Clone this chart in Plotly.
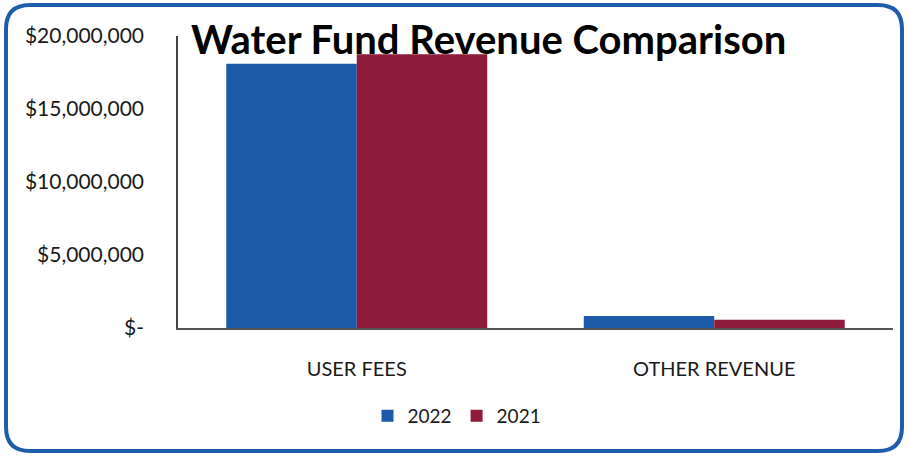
import plotly.graph_objects as go

# data
categories = ["USER FEES", "OTHER REVENUE"]
rev_2022 = [18100000, 820000]
rev_2021 = [18750000, 560000]
y_ticks = [0, 5000000, 10000000, 15000000, 20000000]
y_labels = ["$-", "$5,000,000", "$10,000,000", "$15,000,000", "$20,000,000"]

# canvas / plot area in pixels
W, H = 908, 456
L, R, T, B = 178, 15, 36, 128


def px_x(p):
    return (p - L) / (W - L - R)


def px_y(p):
    return (H - B - p) / (H - T - B)


blue = "#1d5aa8"
red = "#8e1b3a"

fig = go.Figure()
fig.add_trace(go.Bar(x=categories, y=rev_2022, name="2022", marker=dict(color=blue, line=dict(width=0))))
fig.add_trace(go.Bar(x=categories, y=rev_2021, name="2021", marker=dict(color=red, line=dict(width=0))))

# rounded blue frame round the whole chart
x0, x1, y0, y1, r = 6, 902, 5, 451, 24
path = (f"M {px_x(x0 + r)},{px_y(y0)} L {px_x(x1 - r)},{px_y(y0)} "
        f"Q {px_x(x1)},{px_y(y0)} {px_x(x1)},{px_y(y0 + r)} "
        f"L {px_x(x1)},{px_y(y1 - r)} Q {px_x(x1)},{px_y(y1)} {px_x(x1 - r)},{px_y(y1)} "
        f"L {px_x(x0 + r)},{px_y(y1)} Q {px_x(x0)},{px_y(y1)} {px_x(x0)},{px_y(y1 - r)} "
        f"L {px_x(x0)},{px_y(y0 + r)} Q {px_x(x0)},{px_y(y0)} {px_x(x0 + r)},{px_y(y0)} Z")
fig.add_shape(type="path", path=path, xref="paper", yref="paper",
              line=dict(color="#1f5cab", width=4), layer="above")

fig.update_layout(
    width=W, height=H,
    margin=dict(l=L, r=R, t=T, b=B),
    paper_bgcolor="white", plot_bgcolor="white",
    font=dict(family="Lato, 'Open Sans', sans-serif", color="#1a1a1a"),
    barmode="group", bargap=0.27, bargroupgap=0,
    title=dict(text="<b>Water Fund Revenue Comparison</b>", font=dict(size=40, color="black"),
               x=px_x(191), xref="paper", xanchor="left",
               y=1 - 40 / H, yref="container", yanchor="middle"),
    showlegend=True,
    legend=dict(orientation="h", x=px_x(457), xanchor="center", y=px_y(416), yanchor="middle",
                font=dict(size=19, color="#1a1a1a"), itemwidth=30, traceorder="normal"),
    xaxis=dict(showline=True, linecolor="#555555", linewidth=1.5, showgrid=False,
               ticks="outside", ticklen=22, tickcolor="rgba(0,0,0,0)",
               tickfont=dict(size=20), fixedrange=True),
    yaxis=dict(range=[0, 20000000], tickvals=y_ticks, ticktext=y_labels,
               showline=True, linecolor="#444444", linewidth=1.5, showgrid=False, zeroline=False,
               ticks="outside", ticklen=28, tickcolor="rgba(0,0,0,0)",
               tickfont=dict(size=21), fixedrange=True),
)

# page margin off so the figure sits at the window corner
fig.write_html("out.html", config={"displayModeBar": False},
               post_script="document.body.style.margin='0';")
